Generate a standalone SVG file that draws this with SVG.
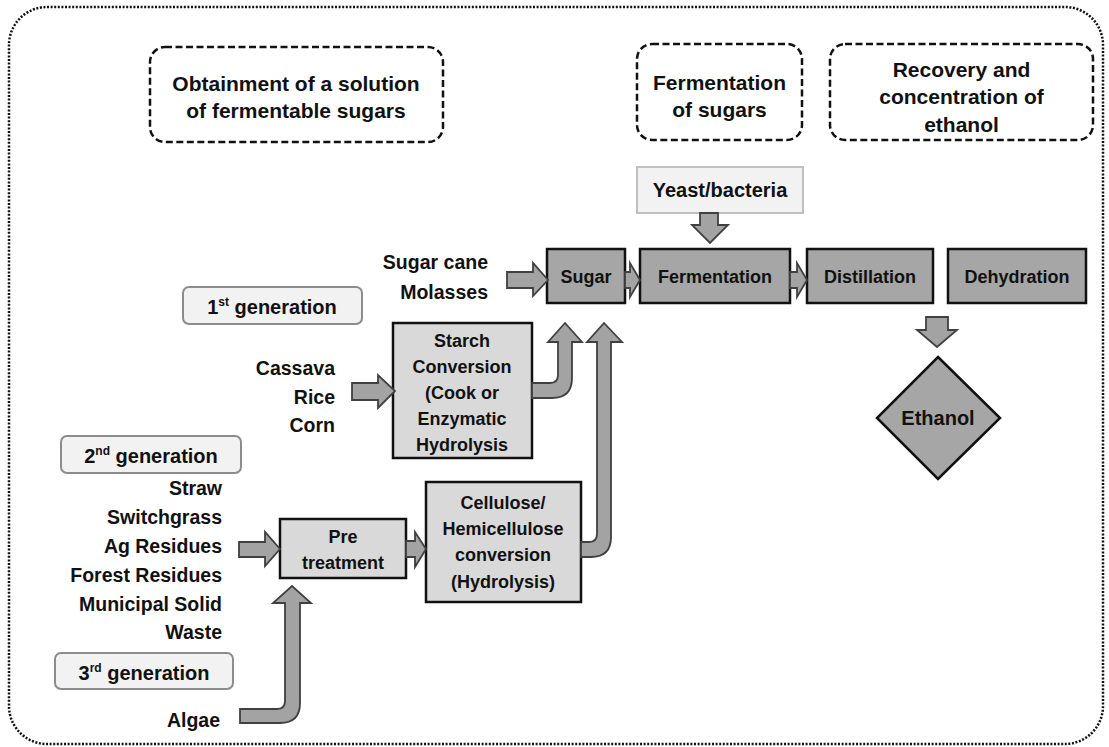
<svg xmlns="http://www.w3.org/2000/svg" width="1109" height="747" viewBox="0 0 1109 747">
<style>
text{font-family:"Liberation Sans",Arial,sans-serif;font-weight:bold;fill:#111;}
.h{font-size:21px;text-anchor:middle;}
.m{font-size:18px;text-anchor:middle;}
.l{font-size:19.5px;text-anchor:end;}
.g{font-size:20px;text-anchor:middle;}
.dash{fill:#fff;stroke:#111;stroke-width:2.5;stroke-dasharray:7 3.5;}
.dark{fill:#a6a6a6;stroke:#111;stroke-width:2.5;}
.light{fill:#d9d9d9;stroke:#111;stroke-width:2.5;}
.gen{fill:#f2f2f2;stroke:#8c8c8c;stroke-width:2;}
.arr{fill:#a3a3a3;stroke:#404040;stroke-width:1.8;stroke-linejoin:miter;}
</style>
<rect x="9" y="7" width="1094" height="737" rx="38" fill="#fff" stroke="#111" stroke-width="2.5" stroke-dasharray="2 1.6"/>

<g id="stage1"><rect class="dash" x="150" y="47" width="293" height="95" rx="15"/>
<text class="h" x="296" y="91">Obtainment of a solution</text><text class="h" x="296" y="118">of fermentable sugars</text></g>
<g id="stage2"><rect class="dash" x="637" y="44" width="165" height="96" rx="15"/>
<text class="h" x="719.5" y="90">Fermentation</text><text class="h" x="719.5" y="117">of sugars</text></g>
<g id="stage3"><rect class="dash" x="830" y="44" width="263" height="96" rx="15"/>
<text class="h" x="961.5" y="77">Recovery and</text><text class="h" x="961.5" y="104">concentration of</text><text class="h" x="961.5" y="132">ethanol</text></g>

<g id="yeast"><rect x="637" y="167" width="166" height="46" fill="#f2f2f2" stroke="#c0c0c0" stroke-width="2"/>
<text class="g" x="720" y="197">Yeast/bacteria</text></g>

<g id="sugar"><rect class="dark" x="547" y="249" width="78" height="54"/><text class="m" x="586" y="283">Sugar</text></g>
<g id="fermentation"><rect class="dark" x="640" y="249" width="150" height="54"/><text class="m" x="715" y="283">Fermentation</text></g>
<g id="distillation"><rect class="dark" x="807" y="249" width="126" height="54"/><text class="m" x="870" y="283">Distillation</text></g>
<g id="dehydration"><rect class="dark" x="948" y="249" width="138" height="54"/><text class="m" x="1017" y="283">Dehydration</text></g>

<g id="ethanol"><polygon class="dark" points="938,357 1000,418 938,479 877,418"/><text class="g" x="938" y="425">Ethanol</text></g>

<g id="gen1"><rect class="gen" x="183" y="287" width="179" height="37" rx="6"/>
<text class="g" x="272" y="314">1<tspan font-size="12" dy="-8">st</tspan><tspan dy="8"> generation</tspan></text></g>
<g id="gen2"><rect class="gen" x="61" y="436" width="180" height="37" rx="6"/>
<text class="g" x="151" y="463">2<tspan font-size="12" dy="-8">nd</tspan><tspan dy="8"> generation</tspan></text></g>
<g id="gen3"><rect class="gen" x="55" y="653" width="178" height="36" rx="6"/>
<text class="g" x="144" y="680">3<tspan font-size="12" dy="-8">rd</tspan><tspan dy="8"> generation</tspan></text></g>

<g id="src-sugarcane"><text class="l" x="488" y="269">Sugar cane</text><text class="l" x="488" y="299">Molasses</text></g>
<g id="src-starch"><text class="l" x="335" y="375">Cassava</text><text class="l" x="335" y="404">Rice</text><text class="l" x="335" y="432">Corn</text></g>
<g id="src-lignocellulose"><text class="l" x="222" y="495">Straw</text><text class="l" x="222" y="524">Switchgrass</text><text class="l" x="222" y="553">Ag Residues</text><text class="l" x="222" y="582">Forest Residues</text><text class="l" x="222" y="611">Municipal Solid</text><text class="l" x="222" y="639">Waste</text></g>
<g id="src-algae"><text class="l" x="220" y="727">Algae</text></g>

<g id="starch"><rect class="light" x="393" y="323" width="139" height="135"/>
<text class="m" x="462" y="347">Starch</text><text class="m" x="462" y="373">Conversion</text><text class="m" x="462" y="399">(Cook or</text><text class="m" x="462" y="425">Enzymatic</text><text class="m" x="462" y="451">Hydrolysis</text></g>
<g id="pretreatment"><rect class="light" x="280" y="519" width="126" height="59"/>
<text class="m" x="343" y="543">Pre</text><text class="m" x="343" y="569">treatment</text></g>
<g id="cellulose"><rect class="light" x="426" y="482" width="155" height="120"/>
<text class="m" x="503" y="509">Cellulose/</text><text class="m" x="503" y="535">Hemicellulose</text><text class="m" x="503" y="561">conversion</text><text class="m" x="503" y="588">(Hydrolysis)</text></g>

<g id="connectors">
<polygon class="arr" points="507,272 533,272 533,263 548,280 533,296 533,288 507,288"/>
<polygon class="arr" points="625,272 630,272 630,263 640,280 630,297 630,288 625,288"/>
<polygon class="arr" points="790,272 797,272 797,263 807,280 797,297 797,288 790,288"/>
<polygon class="arr" points="700,213 718,213 718,225 728,225 710,243 692,225 700,225"/>
<polygon class="arr" points="926,317 948,317 948,330 957,330 937,347 917,330 926,330"/>
<polygon class="arr" points="352,383 378,383 378,375 395,391 378,408 378,400 352,400"/>
<polygon class="arr" points="239,542 265,542 265,532 280,549 265,566 265,557 239,557"/>
<polygon class="arr" points="406,541 415,541 415,532 426,549 415,567 415,557 406,557"/>
<path class="arr" d="M532,383 L550,383 Q558,383 558,375 L558,342 L548,342 L565,323 L582,342 L572,342 L572,378 Q572,398 552,398 L532,398 Z"/>
<path class="arr" d="M581,542 L589,542 Q597,542 597,534 L597,342 L587,342 L604,323 L622,342 L611,342 L611,537 Q611,557 591,557 L581,557 Z"/>
<path class="arr" d="M240,709 L277,709 Q285,709 285,701 L285,603 L273,603 L292,586 L311,603 L300,603 L300,703 Q300,723 280,723 L240,723 Z"/>
</g>
</svg>
